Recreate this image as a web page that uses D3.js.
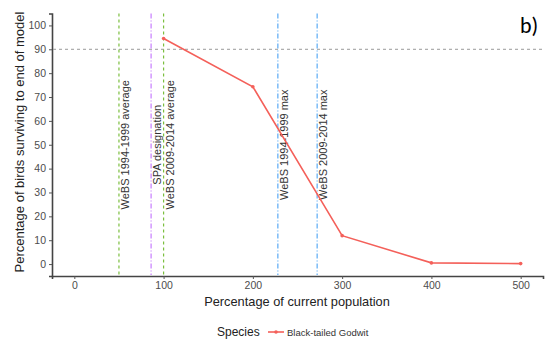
<!DOCTYPE html>
<html><head><meta charset="utf-8">
<script src="https://cdn.jsdelivr.net/npm/d3@7"></script>
<style>body{margin:0;background:#fff}svg{display:block}text{font-family:"Liberation Sans",Arial,sans-serif}</style>
</head><body><svg id="c" width="557" height="341"></svg>
<script>
const populationPct = [100, 200, 300, 400, 500];
const survivalPct = [94.5, 74.3, 11.9, 0.5, 0.2];
const xTicks = [0, 100, 200, 300, 400, 500];
const yTicks = [0, 10, 20, 30, 40, 50, 60, 70, 80, 90, 100];
const refLabels = ["WeBS 1994-1999 average", "SPA designation", "WeBS 2009-2014 average", "WeBS 1994-1999 max", "WeBS 2009-2014 max"];
const refValues = [50, 86, 100, 228, 272];
const refColors = ["#7cbf3f", "#c77cff", "#7cbf3f", "#5aaaf5", "#5aaaf5"];
const refDash = ["3,3", "5,2,1,2", "3,3", "5,2,1,2", "5,2,1,2"];
const thresholdY = 90;
const seriesName = "Black-tailed Godwit";

const svg = d3.select("#c");
const x = d3.scaleLinear().domain([-25, 525]).range([52, 543]);
const y = d3.scaleLinear().domain([-5, 105]).range([276, 13.5]);

// axes
const xAxis = svg.append("g").attr("transform", "translate(0,276)")
  .call(d3.axisBottom(x).tickValues(xTicks).tickSize(3).tickPadding(3));
const yAxis = svg.append("g").attr("transform", "translate(52,0)")
  .call(d3.axisLeft(y).tickValues(yTicks).tickSize(3).tickPadding(3));
[xAxis, yAxis].forEach(a => {
  a.select(".domain").attr("stroke", "#444").attr("stroke-width", 1.6);
  a.selectAll(".tick line").attr("stroke", "#555");
  a.selectAll(".tick text").attr("fill", "#4d4d4d").style("font-size", "10.5px");
});

// threshold line
svg.append("line").attr("x1", 53).attr("x2", 543).attr("y1", y(thresholdY)).attr("y2", y(thresholdY))
  .attr("stroke", "#999").attr("stroke-width", 1).attr("stroke-dasharray", "3,3");

// reference lines
refValues.forEach((v, i) => {
  svg.append("line").attr("x1", x(v)).attr("x2", x(v)).attr("y1", y(105)).attr("y2", 275)
    .attr("stroke", refColors[i]).attr("stroke-width", 1.2).attr("stroke-dasharray", refDash[i]);
  svg.append("text").attr("transform", `translate(${x(v) + 6},${y(50)}) rotate(-90)`)
    .attr("text-anchor", "middle").attr("dominant-baseline", "central")
    .style("font-size", "11px").attr("fill", "#333").text(refLabels[i]);
});

// series
const pts = populationPct.map((p, i) => [p, survivalPct[i]]);
svg.append("path").datum(pts).attr("fill", "none").attr("stroke", "#f4605a").attr("stroke-width", 1.6)
  .attr("d", d3.line().x(d => x(d[0])).y(d => y(d[1])));
svg.selectAll("circle.pt").data(pts).enter().append("circle").attr("class", "pt")
  .attr("cx", d => x(d[0])).attr("cy", d => y(d[1])).attr("r", 1.8).attr("fill", "#f4605a");

// axis titles
svg.append("text").attr("x", 297).attr("y", 301).attr("text-anchor", "middle").attr("dominant-baseline", "central")
  .style("font-size", "12.8px").attr("fill", "#222").text("Percentage of current population");
svg.append("text").attr("transform", "translate(19,142) rotate(-90)").attr("text-anchor", "middle")
  .attr("dominant-baseline", "central").style("font-size", "13px").attr("fill", "#222")
  .text("Percentage of birds surviving to end of model");

// legend
svg.append("text").attr("x", 217).attr("y", 332).attr("dominant-baseline", "central")
  .style("font-size", "12px").attr("fill", "#222").text("Species");
svg.append("line").attr("x1", 268).attr("x2", 284).attr("y1", 332).attr("y2", 332)
  .attr("stroke", "#f4605a").attr("stroke-width", 1.6);
svg.append("circle").attr("cx", 276).attr("cy", 332).attr("r", 1.8).attr("fill", "#f4605a");
svg.append("text").attr("x", 287).attr("y", 332).attr("dominant-baseline", "central")
  .style("font-size", "9.5px").attr("fill", "#333").text(seriesName);

// panel tag
svg.append("text").attr("x", 520).attr("y", 25).attr("dominant-baseline", "central")
  .style("font-size", "22px").style("font-family", "Carlito, 'Liberation Sans', sans-serif").attr("fill", "#000").text("b)");
</script></body></html>
